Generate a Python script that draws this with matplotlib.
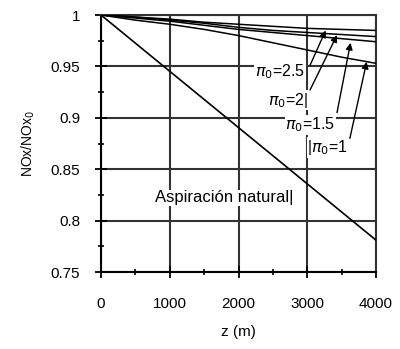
import numpy as np
import matplotlib
matplotlib.use("Agg")
import matplotlib.pyplot as plt

plt.rcParams['font.family'] = ['Liberation Sans', 'DejaVu Sans']

# altitude (m)
z = [0, 500, 1000, 1500, 2000, 2500, 3000, 3500, 4000]
# NOx/NOx0 for each compression ratio
pi_25 = [1, 0.998, 0.996, 0.993, 0.991, 0.989, 0.987, 0.986, 0.985]
pi_2 = [1, 0.998, 0.995, 0.992, 0.988, 0.985, 0.983, 0.981, 0.979]
pi_15 = [1, 0.997, 0.994, 0.990, 0.986, 0.983, 0.980, 0.977, 0.974]
pi_1 = [1, 0.995, 0.991, 0.986, 0.980, 0.973, 0.966, 0.959, 0.953]
# natural aspiration
z_nat = [0, 4000]
nat = [1, 0.781]

labels = [r'$\pi_0$=2.5', r'$\pi_0$=2|', r'$\pi_0$=1.5', r'|$\pi_0$=1']
label_xy = [(2240, 0.9445), (2430, 0.917), (2680, 0.893), (3000, 0.871)]
arrow_head = [(3268, 0.985), (3433, 0.9805), (3630, 0.973), (3864, 0.9545)]
arrow_tail = [(3040, 0.951), (3040, 0.927), (3433, 0.905), (3620, 0.880)]

fig = plt.figure(figsize=(4.0, 3.49), dpi=100)
ax = fig.add_axes([0.2525, 0.2206, 0.6875, 0.7364])

for y in [pi_25, pi_2, pi_15, pi_1]:
    ax.plot(z, y, color='black', lw=1.1, zorder=3)
ax.plot(z_nat, nat, color='black', lw=1.2, zorder=3)

ax.set_xlim(0, 4000)
ax.set_ylim(0.75, 1.0)
ax.set_xticks([0, 1000, 2000, 3000, 4000])
ax.set_yticks([0.75, 0.8, 0.85, 0.9, 0.95, 1.0])
ax.set_yticklabels(['0.75', '0.8', '0.85', '0.9', '0.95', '1'])
ax.set_xticks(np.arange(500, 4000, 1000), minor=True)
ax.set_yticks(np.arange(0.775, 1.0, 0.05), minor=True)
ax.tick_params(which='major', direction='inout', length=8, width=1.3,
               labelsize=11, colors='black')
ax.tick_params(axis='x', which='major', pad=14)
ax.tick_params(axis='y', which='major', pad=11)
ax.tick_params(which='minor', direction='inout', length=5, width=1.2)
ax.grid(True, which='major', color='#333333', lw=1.5, zorder=1)
for s in ax.spines.values():
    s.set_linewidth(1.5)
    s.set_color('#333333')
ax.spines['left'].set_color('black')
ax.spines['bottom'].set_color('black')

ax.set_xlabel('z (m)', fontsize=11, labelpad=10)
ax.set_ylabel(r'NOx/NOx$_0$', fontsize=10, labelpad=10)

box = dict(facecolor='white', edgecolor='none', pad=0.5)
ax.text(1790, 0.822, 'Aspiración natural|', fontsize=12, ha='center',
        va='center', bbox=box, zorder=4)
for lab, (tx, ty), head, tail in zip(labels, label_xy, arrow_head, arrow_tail):
    ax.text(tx, ty, lab, fontsize=11.5, ha='left', va='center', bbox=box, zorder=4)
    ax.annotate('', xy=head, xytext=tail,
                arrowprops=dict(arrowstyle='-|>', color='black', lw=1.0,
                                mutation_scale=10, shrinkA=0, shrinkB=0),
                zorder=5)

fig.savefig('out.png', dpi=100)
